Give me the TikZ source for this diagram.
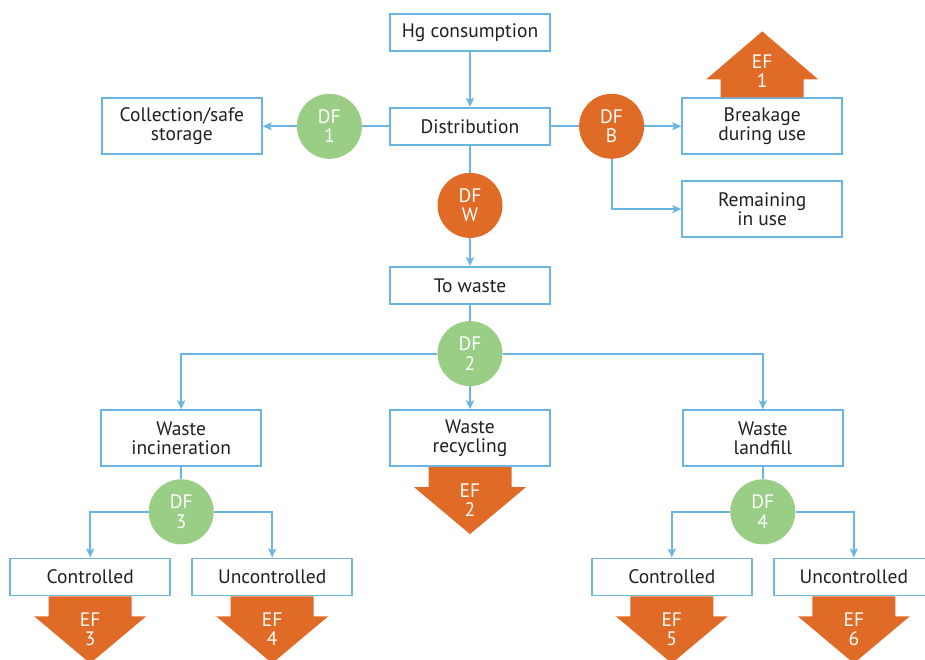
\documentclass[tikz,border=0pt]{standalone}
\usepackage{fontspec}
\setmainfont{PT Sans}
\usetikzlibrary{arrows.meta,positioning,calc}
\definecolor{flowblue}{HTML}{6BB6E1}
\definecolor{dfgreen}{HTML}{9ACD85}
\definecolor{dforange}{HTML}{E06B26}
\definecolor{textgray}{HTML}{231F20}

\begin{document}
\begin{tikzpicture}[x=1pt, y=1pt,
        every node/.style={align=center, font=\fontsize{19.5}{19.5}\selectfont, inner sep=2pt},
        box/.style={draw=flowblue, line width=1.8pt, fill=white, text=textgray, minimum width=160pt, minimum height=37pt},
        tall/.style={box, minimum height=56pt},
        df/.style={circle, fill=#1, text=white, minimum size=65pt, inner sep=0pt},
        line/.style={flowblue, line width=1.8pt},
        flow/.style={line, -{Stealth[length=9pt, width=8pt, inset=2pt]}},
        efarrow/.style={fill=dforange},
        eflabel/.style={text=white}
    ]
    \useasboundingbox (0,0) rectangle (925,-660);
    \clip (0,0) rectangle (925,-660);

    \node[box] (hg) at (470,-32.5) {Hg consumption};
    \node[box] (dist) [below=55pt of hg] {Distribution};
    \node[df=dfgreen] (df1) [left=27pt of dist] {DF\\1};
    \node[tall] (collect) [left=34pt of df1] {Collection/safe\\storage};
    \node[df=dforange] (dfb) [right=28pt of dist] {DF\\B};
    \node[tall] (brk) [right=37pt of dfb] {Breakage\\during use};
    \node[tall] (remain) [below=25pt of brk] {Remaining\\in use};
    \node[df=dforange] (dfw) [below=27pt of dist] {DF\\W};
    \node[box] (towaste) [below=28pt of dfw] {To waste};
    \node[df=dfgreen] (df2) [below=16pt of towaste] {DF\\2};
    \node[tall] (recyc) [below=23pt of df2] {Waste\\recycling};
    \node[tall] (incin) [left=127pt of recyc] {Waste\\incineration};
    \node[tall] (landf) [right=131pt of recyc] {Waste\\landfill};
    \node[df=dfgreen] (df3) [below=12pt of incin] {DF\\3};
    \node[df=dfgreen] (df4) [below=12pt of landf] {DF\\4};
    \node[box] (ctrlA) [below=13pt of df3, xshift=-91pt] {Controlled};
    \node[box] (unctrlA) [below=13pt of df3, xshift=91pt] {Uncontrolled};
    \node[box] (ctrlB) [below=13pt of df4, xshift=-91pt] {Controlled};
    \node[box] (unctrlB) [below=13pt of df4, xshift=91pt] {Uncontrolled};

    \draw[flow] (hg) -- (dist);
    \draw[line] (dist) -- (df1);
    \draw[flow] (df1) -- (collect);
    \draw[line] (dist) -- (dfb);
    \draw[flow] (dfb) -- (dfb -| brk.west);
    \draw[flow] (dfb) |- (remain);
    \draw[line] (dist) -- (dfw);
    \draw[flow] (dfw) -- (towaste);
    \draw[line] (towaste) -- (df2);
    \draw[flow] (df2) -| (incin);
    \draw[flow] (df2) -- (recyc);
    \draw[flow] (df2) -| (landf);
    \draw[line] (incin) -- (df3);
    \draw[flow] (df3) -| (ctrlA);
    \draw[flow] (df3) -| (unctrlA);
    \draw[line] (landf) -- (df4);
    \draw[flow] (df4) -| (ctrlB);
    \draw[flow] (df4) -| (unctrlB);

    % emission arrows
    \fill[efarrow] (brk.north) ++(-41.5,0) -- ++(0,18) -- ++(-14.5,0) -- ++(56,48) -- ++(56,-48) -- ++(-14.5,0) -- ++(0,-18) -- cycle;
    \node[eflabel] (ef1) at ($(brk.north)+(0,26)$) {EF\\1};
    \foreach \b/\n in {recyc/2, ctrlA/3, unctrlA/4, ctrlB/5, unctrlB/6} {
        \fill[efarrow] (\b.south) ++(-41.5,0) -- ++(0,-20) -- ++(-14.5,0) -- ++(56,-47) -- ++(56,47) -- ++(-14.5,0) -- ++(0,20) -- cycle;
        \node[eflabel] (ef\n) at ($(\b.south)+(0,-33)$) {EF\\\n};
    }
\end{tikzpicture}
\end{document}
